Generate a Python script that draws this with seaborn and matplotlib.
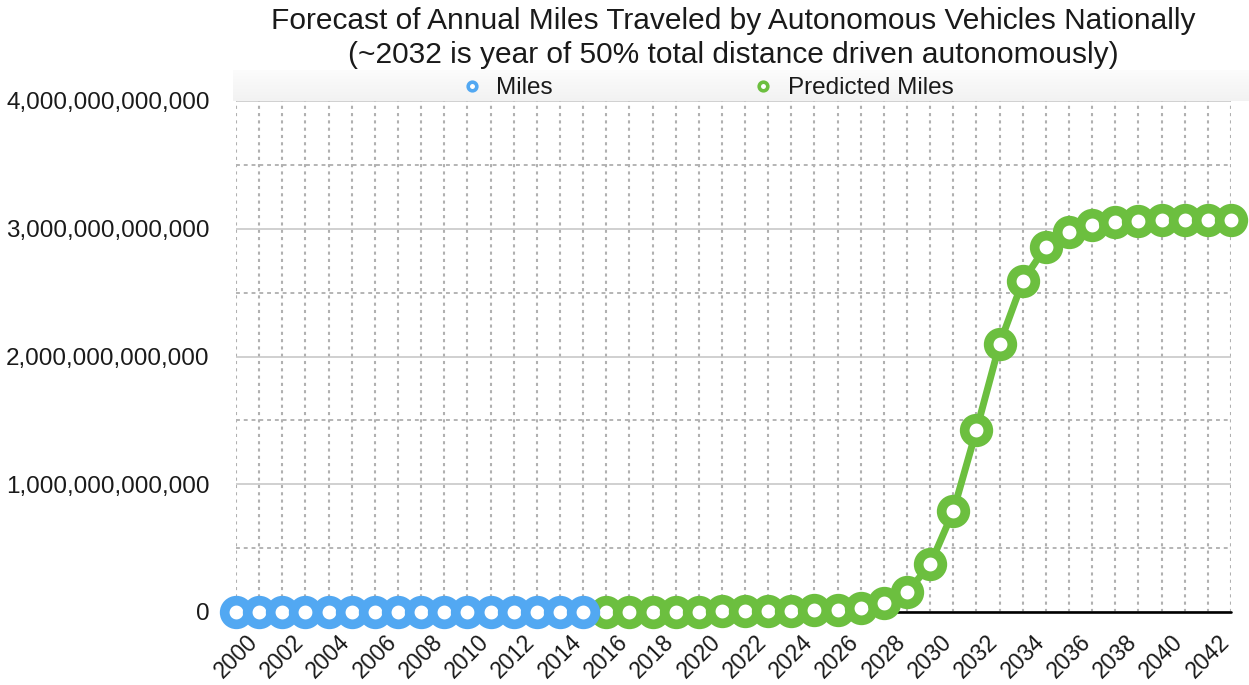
import matplotlib
matplotlib.use("Agg")
import matplotlib.pyplot as plt
from matplotlib.lines import Line2D
from matplotlib.ticker import FuncFormatter, MultipleLocator
import numpy as np
import pandas as pd
import seaborn as sns

# Annual autonomous-vehicle miles, observed and forecast
years_observed = list(range(2000, 2016))
miles_observed = [0] * 16

years_forecast = list(range(2016, 2044))
miles_forecast = [
    0.001e12, 0.001e12, 0.002e12, 0.002e12, 0.003e12, 0.004e12, 0.006e12,
    0.008e12, 0.011e12, 0.015e12, 0.018e12, 0.032e12, 0.067e12, 0.154e12,
    0.372e12, 0.790e12, 1.425e12, 2.098e12, 2.590e12, 2.860e12, 2.977e12,
    3.030e12, 3.055e12, 3.063e12, 3.066e12, 3.068e12, 3.068e12, 3.068e12,
]

series_names = ["Miles", "Predicted Miles"]
series_colors = ["#52a8f2", "#6cbf3f"]
x_tick_labels = [str(y) for y in range(2000, 2043, 2)]
y_tick_values = [0, 1e12, 2e12, 3e12, 4e12]

df_obs = pd.DataFrame({"year": years_observed, "miles": miles_observed})
df_fc = pd.DataFrame({"year": years_forecast, "miles": miles_forecast})

sns.set_theme(style="white")
plt.rcParams["font.family"] = ["Liberation Sans", "DejaVu Sans"]

W, H = 1249, 685
DPI = 100
fig = plt.figure(figsize=(W / DPI, H / DPI), dpi=DPI)

# faint header band behind the legend, lighter towards the top
band = fig.add_axes([233 / W, 1 - 101 / H, 1 - 233 / W, 31 / H], zorder=0)
grad = np.linspace(0, 1, 64).reshape(-1, 1)
band.imshow(grad, aspect="auto", cmap=matplotlib.colors.LinearSegmentedColormap.from_list(
    "band", ["#fcfcfc", "#f2f2f2"]), extent=(0, 1, 1, 0))
band.set_axis_off()

ax = fig.add_axes([236 / W, 1 - 612 / H, (1231 - 236) / W, (612 - 101) / H], zorder=1)
ax.set_facecolor("none")

line_kw = dict(marker="o", markersize=17.0, markeredgewidth=7.0,
               markerfacecolor="white", linewidth=5.0, clip_on=False)

sns.lineplot(data=df_fc, x="year", y="miles", ax=ax, color=series_colors[1],
             markeredgecolor=series_colors[1], zorder=4, **line_kw)
sns.lineplot(data=df_obs, x="year", y="miles", ax=ax, color=series_colors[0],
             markeredgecolor=series_colors[0], zorder=5, **line_kw)

ax.set_xlim(2000, 2043)
ax.set_ylim(0, 4e12)

ax.set_xticks(list(range(2000, 2043, 2)))
ax.set_xticklabels(x_tick_labels, rotation=45, ha="center", fontsize=16.5)
ax.xaxis.set_minor_locator(MultipleLocator(1))
ax.set_yticks(y_tick_values)
ax.yaxis.set_major_formatter(FuncFormatter(lambda v, p: f"{int(round(v)):,}"))
ax.yaxis.set_minor_locator(MultipleLocator(0.5e12))
ax.tick_params(axis="y", which="major", length=0, pad=19, labelsize=17.5, labelcolor="#1a1a1a")
ax.tick_params(axis="x", which="major", length=0, pad=13, labelcolor="#1a1a1a")
ax.tick_params(which="minor", length=0)

ax.set_xlabel("")
ax.set_ylabel("")

# grid: solid major horizontals, dashed half steps, dotted year verticals
ax.grid(False)
ax.yaxis.grid(True, which="major", color="#c4c4c4", linewidth=1.1, linestyle="-")
ax.yaxis.grid(True, which="minor", color="#b4b4b4", linewidth=1.4, linestyle=(0, (2.0, 2.0)))
ax.xaxis.grid(True, which="both", color="#b0b0b0", linewidth=1.5, linestyle=(0, (1.5, 2.0)))
ax.set_axisbelow(True)
ax.axhline(0, color="black", linewidth=1.9, zorder=2, clip_on=False)

for s in ax.spines.values():
    s.set_visible(False)

ax.set_title("Forecast of Annual Miles Traveled by Autonomous Vehicles Nationally\n"
             "(~2032 is year of 50% total distance driven autonomously)",
             fontsize=21.5, color="#1a1a1a", pad=27.5, linespacing=1.27)

handles = [Line2D([], [], linestyle="none", marker="o", markersize=6.2,
                  markeredgewidth=2.6, markerfacecolor="white", markeredgecolor=c)
           for c in series_colors]
fig.legend(handles, series_names, loc="center left",
           bbox_to_anchor=(460 / W, 1 - 88 / H), ncol=2, frameon=False,
           fontsize=17.5, handlelength=1.0, handletextpad=0.5, columnspacing=8.15,
           borderpad=0, borderaxespad=0, labelcolor="#1a1a1a")

fig.savefig("out.png", dpi=DPI)
